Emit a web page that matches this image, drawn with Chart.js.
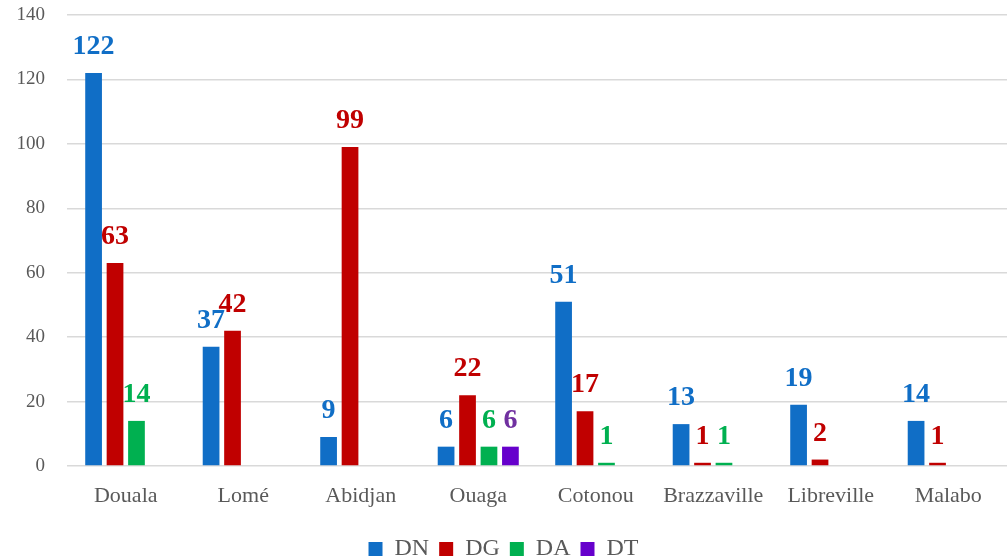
<!DOCTYPE html>
<html>
<head>
<meta charset="utf-8">
<script src="https://cdn.jsdelivr.net/npm/chart.js@4/dist/chart.umd.min.js"></script>
<style>
  html, body { margin: 0; padding: 0; background: #ffffff; }
  #wrap { width: 1007px; height: 559px; position: relative; }
</style>
</head>
<body>
<div id="wrap"><canvas id="barChart"></canvas></div>
<script>
// cities and counts (null = no bar)
const cities = ['Douala', 'Lomé', 'Abidjan', 'Ouaga', 'Cotonou', 'Brazzaville', 'Libreville', 'Malabo'];
const dnValues = [122, 37, 9, 6, 51, 13, 19, 14];
const dgValues = [63, 42, 99, 22, 17, 1, 2, 1];
const daValues = [14, null, null, 6, 1, 1, null, null];
const dtValues = [null, null, null, 6, null, null, null, null];
const yTicks = [0, 20, 40, 60, 80, 100, 120, 140];

const FONT = '"Liberation Serif", "DejaVu Serif", serif';

// draws value labels above each bar, same colour as the bar
const valueLabels = {
    id: 'valueLabels',
    afterDatasetsDraw(chart) {
        const ctx = chart.ctx;
        ctx.save();
        ctx.font = 'bold 28px ' + FONT;
        ctx.textAlign = 'center';
        ctx.textBaseline = 'bottom';
        chart.data.datasets.forEach((ds, i) => {
            const meta = chart.getDatasetMeta(i);
            meta.data.forEach((bar, j) => {
                const v = ds.data[j];
                if (v === null || v === undefined) return;
                ctx.fillStyle = ds.labelColor;
                ctx.fillText(String(v), bar.x, bar.y - 12);
            });
        });
        ctx.restore();
    }
};

const ctx = document.getElementById('barChart');
new Chart(ctx, {
    type: 'bar',
    data: {
        labels: cities,
        datasets: [
            { label: 'DN', data: dnValues, backgroundColor: '#106EC6', labelColor: '#106EC6' },
            { label: 'DG', data: dgValues, backgroundColor: '#C00000', labelColor: '#C00000' },
            { label: 'DA', data: daValues, backgroundColor: '#00B050', labelColor: '#00B050' },
            { label: 'DT', data: dtValues, backgroundColor: '#6600CC', labelColor: '#7030A0' }
        ]
    },
    options: {
        responsive: true,
        maintainAspectRatio: false,
        animation: false,
        categoryPercentage: 0.73,
        barPercentage: 0.78,
        layout: { padding: { top: 0, right: 0, left: 0, bottom: -12 } },
        scales: {
            y: {
                min: 0,
                max: 140,
                afterBuildTicks: axis => { axis.ticks = yTicks.map(v => ({ value: v })); },
                afterFit: axis => {
                    axis.width = 67;
                    // tick padding would otherwise push the plot down
                    axis.paddingTop = 15;
                    axis.paddingBottom = 0;
                },
                grid: { color: '#D9D9D9', lineWidth: 1.5, drawTicks: false },
                border: { display: false },
                ticks: {
                    padding: 22,
                    color: '#595959',
                    font: { family: FONT, size: 19 }
                }
            },
            x: {
                afterFit: axis => { axis.height = 61; },
                grid: { display: false },
                border: { display: false },
                ticks: {
                    padding: 9,
                    maxRotation: 0,
                    minRotation: 0,
                    autoSkip: false,
                    color: '#595959',
                    font: { family: FONT, size: 22 }
                }
            }
        },
        plugins: {
            legend: {
                position: 'bottom',
                labels: {
                    boxWidth: 14,
                    boxHeight: 14,
                    padding: 10,
                    color: '#595959',
                    font: { family: FONT, size: 24 }
                }
            },
            tooltip: { enabled: false }
        }
    },
    plugins: [valueLabels]
});
</script>
</body>
</html>
